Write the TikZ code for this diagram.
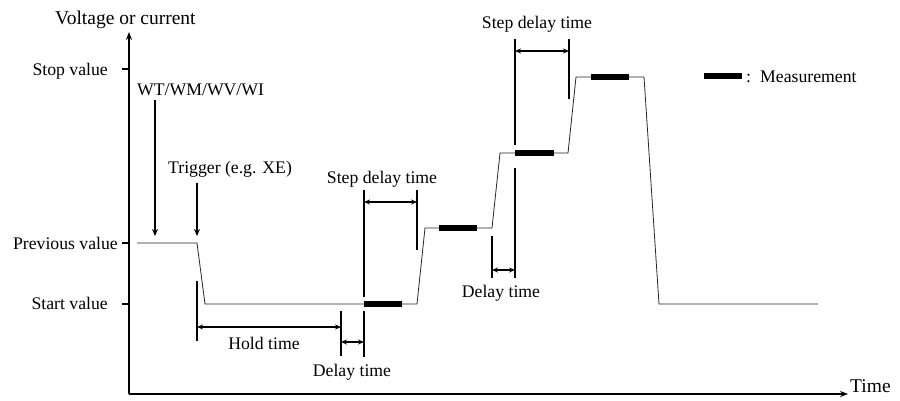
\documentclass[tikz,border=0pt]{standalone}
\usepackage{fontspec}
\setmainfont{Liberation Serif}
\usetikzlibrary{arrows.meta}
\begin{document}
\begin{tikzpicture}[x=1pt,y=-1pt,
  lbl/.style={inner sep=0pt,font=\fontsize{17.7}{20}\selectfont},
  biglbl/.style={inner sep=0pt,font=\fontsize{19.5}{22}\selectfont},
  axis/.style={line width=1.7pt},
  wave/.style={line width=0.8pt,black!85},
  measbar/.style={line width=6pt},
  guide/.style={line width=1.7pt},
  tip/.style={-{Stealth[length=7pt,width=6pt]},line width=1.4pt},
  dim/.style={{Stealth[length=6pt,width=5pt]}-{Stealth[length=6pt,width=5pt]},line width=1.4pt}]
\useasboundingbox (0,0) rectangle (900,400);
% axes
\coordinate (o) at (129,394);
\coordinate (ytop) at (129,32);
\coordinate (xend) at (848,394);
\draw[axis,-{Stealth[length=8pt,width=6pt]}] (o) -- (ytop);
\draw[axis,-{Stealth[length=8pt,width=6pt]}] (o) -- (xend);
\node[biglbl,anchor=base west] (ylab) at (55,24) {Voltage or current};
\node[biglbl,anchor=base west] (xlab) at (850,392) {Time};
% ticks
\coordinate (t1) at (122,69);  \coordinate (t1b) at (129,69);
\coordinate (t2) at (122,243); \coordinate (t2b) at (129,243);
\coordinate (t3) at (122,304); \coordinate (t3b) at (129,304);
\draw[axis] (t1) -- (t1b);
\draw[axis] (t2) -- (t2b);
\draw[axis] (t3) -- (t3b);
\node[lbl,anchor=base east] (stop) at (108,75) {Stop value};
\node[lbl,anchor=base east] (prev) at (118,249) {Previous value};
\node[lbl,anchor=base east] (start) at (108,309) {Start value};
% waveform
\draw[wave] (137,243) -- (197,243) -- (205,304) -- (417,304) -- (425,228) -- (492,228)
  -- (500,153) -- (568,153) -- (576,77) -- (644,77) -- (659,304) -- (818,304);
% measurement bars
\draw[measbar] (364,304) -- (402,304);
\draw[measbar] (439,228) -- (477,228);
\draw[measbar] (515,153) -- (554,153);
\draw[measbar] (591,77) -- (629,77);
% legend
\coordinate (lg1) at (704,76); \coordinate (lg2) at (742,76);
\draw[measbar] (lg1) -- (lg2);
\node[lbl,anchor=base west] (colon) at (746,82) {:};
\node[lbl,anchor=base west] (meas) at (760,82) {Measurement};
% command arrows
\node[lbl,anchor=base west] (wt) at (137,95) {WT/WM/WV/WI};
\coordinate (wta) at (155,100); \coordinate (wtb) at (155,236);
\draw[tip] (wta) -- (wtb);
\node[lbl,anchor=base west] (trig) at (168,173) {Trigger (e.g. XE)};
\coordinate (tra) at (197,183); \coordinate (trb) at (197,236);
\draw[tip] (tra) -- (trb);
% guide lines
\draw[guide] (197,281) -- (197,341);
\draw[guide] (341,311) -- (341,356);
\draw[guide] (364,190) -- (364,297);
\draw[guide] (364,311) -- (364,357);
\draw[guide] (417,190) -- (417,250);
\draw[guide] (492,236) -- (492,278);
\draw[guide] (515,39) -- (515,145);
\draw[guide] (515,168) -- (515,278);
\draw[guide] (569,39) -- (569,99);
% dimension arrows
\coordinate (h1) at (197,327); \coordinate (h2) at (341,327);
\draw[dim] (h1) -- (h2);
\node[lbl,anchor=base] (hold) at (264,349) {Hold time};
\coordinate (d1) at (341,342); \coordinate (d2) at (364,342);
\draw[dim] (d1) -- (d2);
\node[lbl,anchor=base] (delay1) at (352,376) {Delay time};
\coordinate (s1) at (364,202); \coordinate (s2) at (417,202);
\draw[dim] (s1) -- (s2);
\node[lbl,anchor=base] (step1) at (382,183) {Step delay time};
\coordinate (e1) at (492,270); \coordinate (e2) at (515,270);
\draw[dim] (e1) -- (e2);
\node[lbl,anchor=base] (delay2) at (501,297) {Delay time};
\coordinate (f1) at (515,51); \coordinate (f2) at (569,51);
\draw[dim] (f1) -- (f2);
\node[lbl,anchor=base] (step2) at (537,28) {Step delay time};
\end{tikzpicture}
\end{document}
